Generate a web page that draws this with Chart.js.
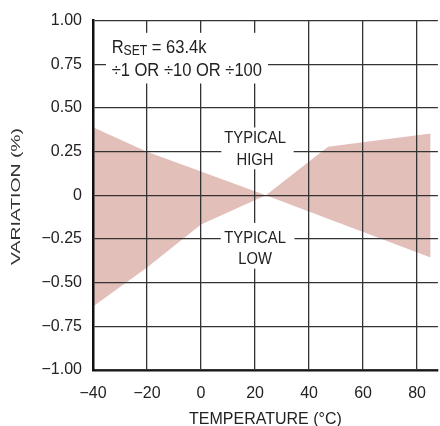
<!DOCTYPE html>
<html lang="en">
<head>
    <meta charset="UTF-8">
    <title>Variation vs Temperature</title>
    <script src="https://cdn.jsdelivr.net/npm/chart.js"></script>
    <style>
        html, body { margin: 0; padding: 0; background: #fff; }
        #wrap { width: 440px; height: 426px; }
    </style>
</head>
<body>
<div id="wrap"><canvas id="chart" width="440" height="426"></canvas></div>

<script>
    // data
    const temps = [-40, -20, 0, 24, 47, 85];
    const highVariation = [0.39, 0.25, 0.136, 0, 0.278, 0.354];
    const lowVariation = [-0.636, -0.413, -0.167, 0, -0.134, -0.356];
    const xTicks = [-40, -20, 0, 20, 40, 60, 80];
    const yTicks = [-1, -0.75, -0.5, -0.25, 0, 0.25, 0.5, 0.75, 1];

    const FONT = "'Liberation Sans', Arial, sans-serif";
    const TXT = '#222';

    function fmtY(v) {
        if (v === 0) return '0';
        const s = Math.abs(v).toFixed(2);
        return v < 0 ? '\u2212' + s : s;
    }
    function fmtX(v) {
        return v < 0 ? '\u2212' + Math.abs(v) : String(v);
    }

    // draw text squeezed horizontally (the original uses a narrow face)
    function narrowText(ctx, str, x, y, size, align) {
        const sx = 0.87;
        ctx.save();
        ctx.font = size + 'px ' + FONT;
        const w = ctx.measureText(str).width * sx;
        let left = x;
        if (align === 'center') left = x - w / 2;
        ctx.translate(left, y);
        ctx.scale(sx, 1);
        ctx.textAlign = 'left';
        ctx.fillText(str, 0, 0);
        ctx.restore();
        return w;
    }

    // white label boxes and texts that sit over the grid
    const labelsPlugin = {
        id: 'labels',
        afterDraw(chart) {
            const ctx = chart.ctx;
            const xs = chart.scales.x, ys = chart.scales.y;
            const X = v => xs.getPixelForValue(v);
            const Y = v => ys.getPixelForValue(v);
            ctx.save();
            ctx.fillStyle = '#fff';
            const box = (x0, x1, y0, y1) => ctx.fillRect(X(x0), Y(y0), X(x1) - X(x0), Y(y1) - Y(y0));
            box(-35.2, 24.8, 0.93, 0.64);
            box(7.5, 34.3, 0.388, 0.149);
            box(7.3, 34.6, -0.158, -0.42);

            ctx.fillStyle = TXT;
            ctx.textBaseline = 'alphabetic';
            // R_SET line
            let x = X(-33.1);
            x += narrowText(ctx, 'R', x, Y(0.816), 19);
            x += narrowText(ctx, 'SET', x, Y(0.816) + 2, 14);
            narrowText(ctx, ' = 63.4k', x, Y(0.816), 19);
            narrowText(ctx, '\u00f71 OR \u00f710 OR \u00f7100', X(-33.1), Y(0.683), 19);

            narrowText(ctx, 'TYPICAL', X(20), Y(0.298), 17, 'center');
            narrowText(ctx, 'HIGH', X(20), Y(0.176), 17, 'center');
            narrowText(ctx, 'TYPICAL', X(20), Y(-0.272), 17, 'center');
            narrowText(ctx, 'LOW', X(20), Y(-0.391), 17, 'center');

            // y axis title (stretched like the original)
            ctx.translate(17, 196.5);
            ctx.rotate(-Math.PI / 2);
            ctx.font = "12px 'Liberation Sans', Arial, sans-serif";
            ctx.fillStyle = '#333';
            const w = ctx.measureText('VARIATION (%)').width;
            ctx.scale(137 / w, 1);
            ctx.textAlign = 'center';
            ctx.textBaseline = 'middle';
            ctx.fillText('VARIATION (%)', 0, 0);
            ctx.restore();
        }
    };

    new Chart(document.getElementById('chart'), {
        type: 'line',
        data: {
            datasets: [{
                label: 'Typical high',
                data: temps.map((t, i) => ({x: t, y: highVariation[i]})),
                borderWidth: 0,
                pointRadius: 0,
                backgroundColor: '#e3bfba',
                fill: '+1'
            }, {
                label: 'Typical low',
                data: temps.map((t, i) => ({x: t, y: lowVariation[i]})),
                borderWidth: 0,
                pointRadius: 0,
                fill: false
            }]
        },
        options: {
            responsive: false,
            animation: false,
            layout: { padding: { top: 18, right: 0, left: 0, bottom: 0 } },
            plugins: { legend: { display: false }, tooltip: { enabled: false } },
            scales: {
                x: {
                    type: 'linear',
                    min: -40,
                    max: 87.7,
                    afterBuildTicks: s => { s.ticks = xTicks.map(v => ({value: v})); },
                    afterFit: s => { s.height = 56; },
                    grid: { color: '#333', lineWidth: 1.3, drawTicks: false, z: 1 },
                    border: { color: '#111', width: 2.5, z: 1 },
                    ticks: {
                        color: TXT,
                        padding: 14,
                        maxRotation: 0,
                        font: { family: FONT, size: 16 },
                        callback: v => fmtX(v)
                    },
                    title: {
                        display: true,
                        text: 'TEMPERATURE (\u00b0C)',
                        color: TXT,
                        padding: { top: 0, bottom: -3 },
                        font: { family: FONT, size: 16 }
                    }
                },
                y: {
                    min: -1,
                    max: 1,
                    afterBuildTicks: s => { s.ticks = yTicks.map(v => ({value: v})); },
                    afterFit: s => { s.width = 93; },
                    grid: { color: '#333', lineWidth: 1.3, drawTicks: false, z: 1 },
                    border: { color: '#111', width: 2.5, z: 1 },
                    ticks: {
                        color: TXT,
                        padding: 11,
                        font: { family: FONT, size: 16 },
                        callback: v => fmtY(v)
                    }
                }
            }
        },
        plugins: [labelsPlugin]
    });
</script>
</body>
</html>
